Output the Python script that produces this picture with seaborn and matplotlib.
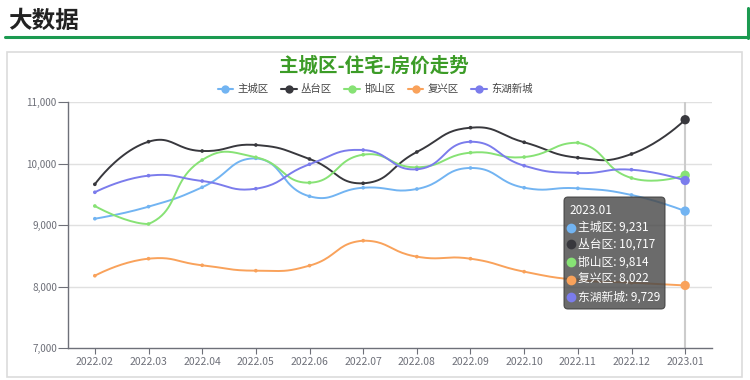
import numpy as np
import pandas as pd
import matplotlib
matplotlib.use("Agg")
import matplotlib.pyplot as plt
import seaborn as sns
from matplotlib.patches import FancyBboxPatch, Rectangle
from matplotlib.lines import Line2D
from matplotlib.transforms import IdentityTransform

# ---------------- data ----------------
months = ['2022.02', '2022.03', '2022.04', '2022.05', '2022.06', '2022.07',
          '2022.08', '2022.09', '2022.10', '2022.11', '2022.12', '2023.01']
series_names = ['主城区', '丛台区', '邯山区', '复兴区', '东湖新城']
zhucheng = [9107, 9303, 9618, 10089, 9472, 9611, 9590, 9932, 9611, 9601, 9493, 9231]
congtai = [9667, 10359, 10208, 10306, 10078, 9683, 10192, 10587, 10350, 10099, 10159, 10717]
hanshan = [9314, 9021, 10062, 10106, 9693, 10148, 9943, 10181, 10110, 10343, 9769, 9814]
fuxing = [8180, 8457, 8350, 8262, 8344, 8750, 8490, 8457, 8246, 8110, 8067, 8022]
donghu = [9537, 9807, 9720, 9595, 9992, 10224, 9911, 10359, 9969, 9850, 9904, 9729]
yticks = [7000, 8000, 9000, 10000, 11000]
chart_title = '主城区-住宅-房价走势'
header = '大数据'

colors = ['#72b4f2', '#38383d', '#87e275', '#f9a25b', '#7b7cec']
values = [zhucheng, congtai, hanshan, fuxing, donghu]

sns.set_theme(style="white")
plt.rcParams['font.family'] = ['Noto Sans CJK SC', 'DejaVu Sans']

W, H = 750, 380
fig = plt.figure(figsize=(W / 100, H / 100), dpi=100)


def fx(x):
    return x / W


def fy(y):
    return 1 - y / H


ax_l, ax_r, ax_t, ax_b = 68, 712, 102.3, 348.3
ax = fig.add_axes([fx(ax_l), fy(ax_b), (ax_r - ax_l) / W, (ax_b - ax_t) / H])
ymin, ymax = 7000, 11000
xlo, xhi = -0.5, len(months) - 0.5
sx = (ax_r - ax_l) / (xhi - xlo)          # px per category
sy = (ax_b - ax_t) / (ymax - ymin)        # px per unit


def smooth_path(vals, smooth=0.5, n=24):
    """ECharts-4 style smoothed bezier in pixel space."""
    pts = np.array([[i * sx, v * sy] for i, v in enumerate(vals)], float)
    lo, hi = pts.min(axis=0), pts.max(axis=0)
    cps = []
    N = len(pts)
    for i in range(N):
        if i == 0 or i == N - 1:
            cps.append(pts[i].copy())
            continue
        p, pr, nx = pts[i], pts[i - 1], pts[i + 1]
        v = (nx - pr) * smooth
        d0 = np.linalg.norm(p - pr)
        d1 = np.linalg.norm(p - nx)
        s = d0 + d1
        if s:
            d0, d1 = d0 / s, d1 / s
        c0 = np.clip(p - v * d0, lo, hi)
        c1 = np.clip(p + v * d1, lo, hi)
        cps.append(c0)
        cps.append(c1)
    out = []
    t = np.linspace(0, 1, n)[:, None]
    for i in range(N - 1):
        P0, P3 = pts[i], pts[i + 1]
        C0, C1 = cps[2 * i], cps[2 * i + 1]
        seg = ((1 - t) ** 3) * P0 + 3 * ((1 - t) ** 2) * t * C0 + 3 * (1 - t) * t ** 2 * C1 + t ** 3 * P3
        out.append(seg if i == 0 else seg[1:])
    out = np.vstack(out)
    return out[:, 0] / sx, out[:, 1] / sy


smooth_rows = []
point_rows = []
for name, vals in zip(series_names, values):
    xs, ys = smooth_path(vals)
    for k, (a, b) in enumerate(zip(xs, ys)):
        smooth_rows.append({'x': a, 'y': b, 'series': name, 'order': k})
    for i, v in enumerate(vals):
        point_rows.append({'x': i, 'y': v, 'series': name})
df_s = pd.DataFrame(smooth_rows)
df_p = pd.DataFrame(point_rows)
pal = dict(zip(series_names, colors))

# grid + axis pointer
for yv in yticks[1:]:
    ax.axhline(yv, color='#e0e0e0', lw=1.0, zorder=0)
ax.axvline(len(months) - 1, color='#cccccc', lw=1.5, zorder=1)

sns.lineplot(data=df_s, x='x', y='y', hue='series', palette=pal, sort=False,
             estimator=None, units='series', legend=False, lw=1.4, ax=ax, zorder=3)
sns.scatterplot(data=df_p[df_p['x'] < len(months) - 1], x='x', y='y', hue='series',
                palette=pal, s=7, linewidth=0, legend=False, ax=ax, zorder=4)
last = df_p[df_p['x'] == len(months) - 1]
sns.scatterplot(data=last, x='x', y='y', hue='series', palette=pal, s=45,
                linewidth=0, legend=False, ax=ax, zorder=5)

ax.set_xlim(xlo, xhi)
ax.set_ylim(ymin, ymax)
ax.set_xticks(range(len(months)))
ax.set_xticklabels(months)
ax.set_yticks(yticks)
ax.set_yticklabels([f'{v:,}' for v in yticks])
ax.set_xlabel('')
ax.set_ylabel('')
for sp in ['top', 'right']:
    ax.spines[sp].set_visible(False)
for sp in ['left', 'bottom']:
    ax.spines[sp].set_color('#6e7079')
    ax.spines[sp].set_linewidth(1.0)
ax.tick_params(axis='x', length=4, width=0.8, color='#6e7079',
               labelcolor='#6e7079', labelsize=7.5, pad=2, direction='out', bottom=True)
ax.tick_params(axis='y', length=7, width=0.8, color='#6e7079',
               labelcolor='#6e7079', labelsize=7.2, pad=1, direction='out', left=True)
ax.set_facecolor('none')

# header
fig.text(fx(8), fy(21), header, fontsize=17, fontweight='bold', color='#222222',
         ha='left', va='center')
fig.add_artist(Line2D([fx(5), fx(748)], [fy(36.5), fy(36.5)], color='#1b9a50',
                      lw=2.2, transform=fig.transFigure))
fig.add_artist(Line2D([fx(747.5), fx(747.5)], [fy(8), fy(37.5)], color='#1b9a50',
                      lw=2.2, transform=fig.transFigure))
# panel
fig.add_artist(Rectangle((fx(7), fy(377)), fx(742) - fx(7), (377 - 52) / H, fill=False,
                         edgecolor='#dcdcdc', lw=1.2, transform=fig.transFigure))
# chart title
fig.text(fx(374), fy(66), chart_title, fontsize=14, fontweight='bold', color='#3c9c27',
         ha='center', va='center')

# legend
handles = [Line2D([], [], color=c, lw=1.5, marker='o', markersize=6,
                  markerfacecolor=c, markeredgewidth=0, alpha=1) for c in colors]
leg = fig.legend(handles, series_names, loc='center', bbox_to_anchor=(fx(375), fy(89)),
                 ncol=5, frameon=False, fontsize=7.5, handlelength=1.5,
                 handletextpad=0.4, columnspacing=1.2, borderpad=0)
for t in leg.get_texts():
    t.set_color('#444444')

# tooltip
bx0, by0, bx1, by1 = 564, 197, 665, 309
fig.add_artist(FancyBboxPatch((bx0, H - by1), bx1 - bx0, by1 - by0,
                              boxstyle='round,pad=0,rounding_size=4',
                              facecolor='#4a4a4a', edgecolor='#3a3a3a', alpha=0.82,
                              lw=0.8, transform=IdentityTransform(), zorder=10))
fig.text(fx(569), fy(210), months[-1], fontsize=8.5, color='white', ha='left',
         va='center', zorder=11)
row_y = [227.5, 244.5, 262, 279.5, 297]
for name, vals, c, ry in zip(series_names, values, colors, row_y):
    fig.add_artist(Line2D([fx(571)], [fy(ry)], marker='o', markersize=7, color=c,
                          markeredgewidth=0, transform=fig.transFigure, zorder=11))
    fig.text(fx(578.5), fy(ry), f'{name}: {vals[-1]:,}', fontsize=8.5, color='white',
             ha='left', va='center', zorder=11)

fig.savefig('out.png', dpi=100)
